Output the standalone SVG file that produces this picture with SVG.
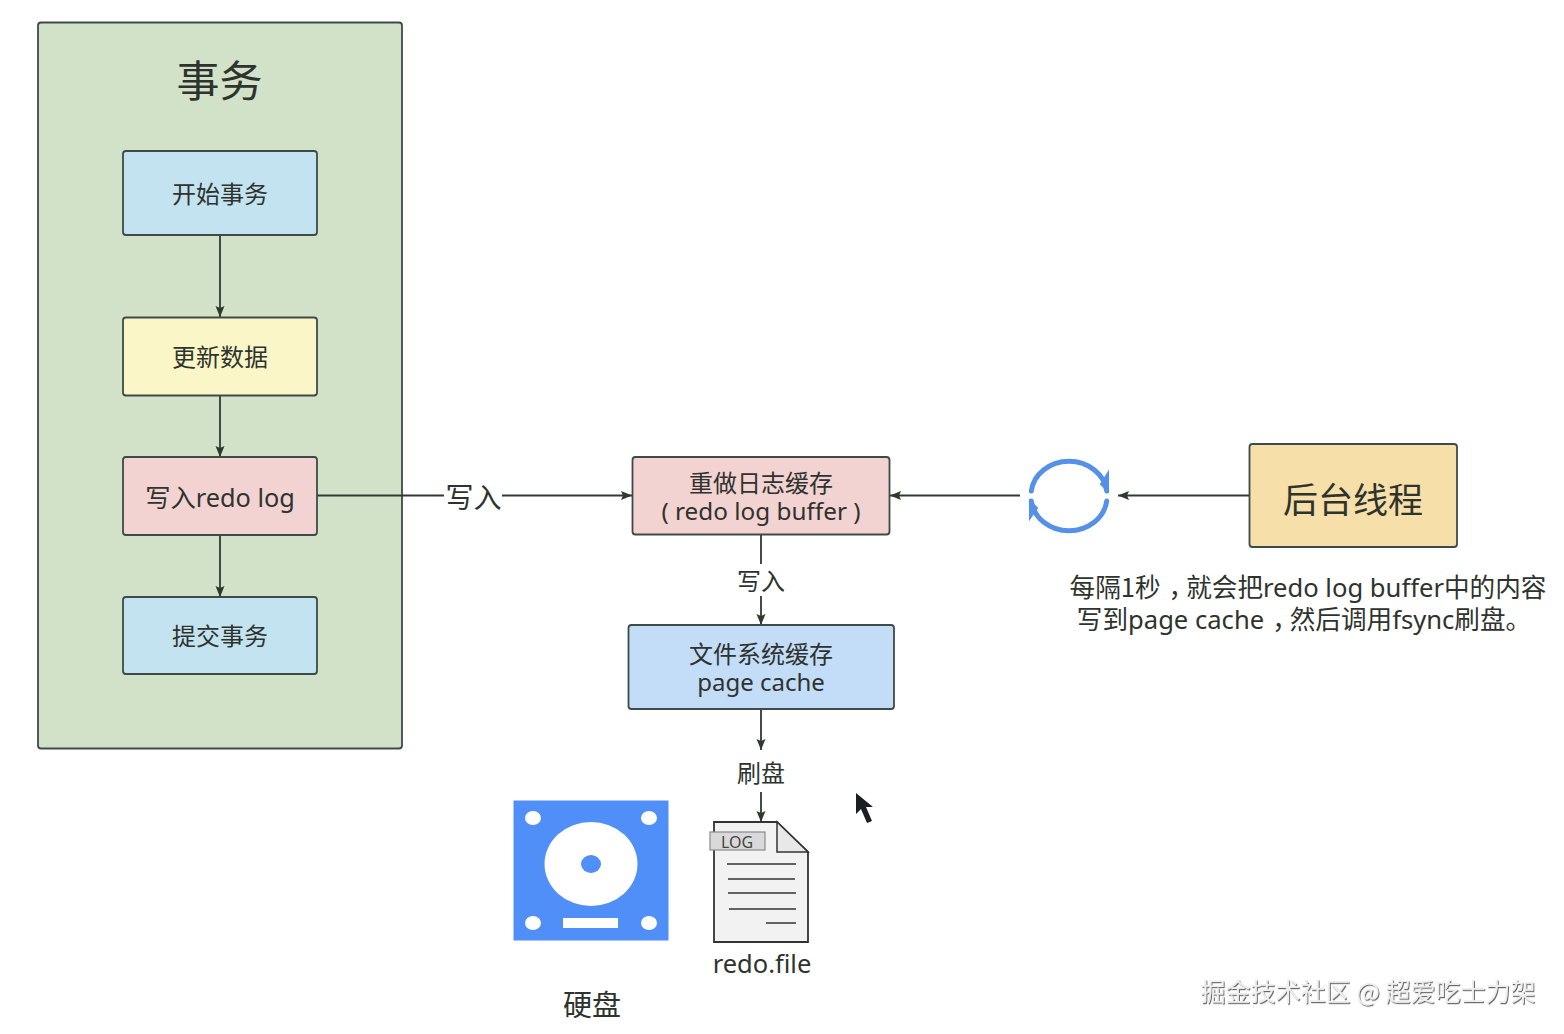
<svg xmlns="http://www.w3.org/2000/svg" width="1564" height="1034" viewBox="0 0 1564 1034">
<defs>
<marker id="a" markerUnits="userSpaceOnUse" markerWidth="13" markerHeight="12" refX="11" refY="6" orient="auto"><path d="M0 1.500L11 6L0 10.500L2 6Z" fill="#2c3a2c"/></marker>
<filter id="sh" x="-5%" y="-20%" width="110%" height="140%"><feDropShadow dx="1" dy="1.2" stdDeviation="0.6" flood-color="#555" flood-opacity="0.9"/></filter>
</defs>
<style>
text{font-family:"Noto Sans CJK SC","Noto Sans",sans-serif;fill:#2e332e;text-anchor:middle}
.lat{font-family:"Noto Sans","Noto Sans CJK SC",sans-serif}
.b{stroke:#3d4a48;stroke-width:1.8}
.c{fill:none;stroke:#2f3a32;stroke-width:1.8}
.m{marker-end:url(#a)}
.t{font-size:24px}
.fl{fill:none;stroke:#333;stroke-width:1.5}
</style>
<rect width="1564" height="1034" fill="#fff"/>
<g id="tx-container"><rect class="b" x="38" y="22.500" width="364" height="726" rx="3" fill="#d2e2c9"/><text x="219.500" y="97" font-size="43">事务</text></g>
<g id="connectors">
<path class="c m" d="M220 235V317"/>
<path class="c m" d="M220 395V457"/>
<path class="c m" d="M220 535V597"/>
<path class="c" d="M317 495.500H444"/>
<path class="c m" d="M502 495.500H632"/>
<path class="c" d="M761 535V564"/>
<path class="c m" d="M761 596V625"/>
<path class="c m" d="M761 709V750"/>
<path class="c m" d="M761 792V822"/>
<path class="c m" d="M1020 495.500H890"/>
<path class="c m" d="M1249 495.500H1118"/>
</g>
<g id="start"><rect class="b" x="123" y="151" width="194" height="84" rx="3" fill="#c4e3f1"/><text class="t" x="220" y="203">开始事务</text></g>
<g id="update"><rect class="b" x="123" y="317.500" width="194" height="78" rx="3" fill="#fbf6c8"/><text class="t" x="220" y="366">更新数据</text></g>
<g id="write"><rect class="b" x="123" y="457" width="194" height="78" rx="3" fill="#f3d2d2"/><text font-size="25.300" x="220" y="506.500">写入<tspan class="lat">redo log</tspan></text></g>
<g id="commit"><rect class="b" x="123" y="597" width="194" height="77" rx="3" fill="#c4e3f1"/><text class="t" x="220" y="645">提交事务</text></g>
<g id="buffer"><rect class="b" x="632.500" y="457" width="257" height="77.500" rx="3" fill="#f3d2d2"/><text class="t" x="761" y="492">重做日志缓存</text><text class="lat" font-size="24.300" x="761" y="520">( redo log buffer )</text></g>
<g id="cache"><rect class="b" x="628.500" y="625" width="265.500" height="84" rx="3" fill="#c3dcf8"/><text class="t" x="761" y="663">文件系统缓存</text><text class="lat" font-size="24" x="761" y="690.500">page cache</text></g>
<g id="thread"><rect class="b" x="1249.500" y="444" width="207.500" height="103" rx="3" fill="#f6dfa8"/><text x="1353" y="513" font-size="35">后台线程</text></g>
<g id="label-write1"><text x="473.500" y="508" font-size="28">写入</text></g>
<g id="label-write2"><text class="t" x="761" y="590">写入</text></g>
<g id="label-flush"><text class="t" x="761" y="781.500">刷盘</text></g>
<g id="loop" fill="none" stroke="#5591e8" stroke-width="5" stroke-linecap="round">
<path d="M1031.300 491A38 34 0 0 1 1106.700 491"/><path d="M1106.700 501A38 34 0 0 1 1031.300 501"/>
<path d="M1108 473V491L1101 484Z" fill="#5591e8" stroke-width="2"/><path d="M1030 518V501L1037 508Z" fill="#5591e8" stroke-width="2"/>
</g>
<g id="note"><text x="1308" y="597" font-size="25.600">每隔1秒<tspan dx="8">，</tspan><tspan dx="-8">就会把</tspan><tspan class="lat">redo log buffer</tspan>中的内容</text><text x="1304" y="629" font-size="25.600">写到<tspan class="lat">page cache</tspan><tspan dx="8">，</tspan><tspan dx="-8">然后调用</tspan><tspan class="lat">fsync</tspan>刷盘。</text></g>
<g id="disk">
<rect x="513.500" y="800.500" width="155" height="140" fill="#4f8ff7"/>
<ellipse cx="533" cy="818" rx="8" ry="7" fill="#fff"/><ellipse cx="649" cy="818" rx="8" ry="7" fill="#fff"/><ellipse cx="533" cy="923" rx="8" ry="7" fill="#fff"/><ellipse cx="649" cy="923" rx="8" ry="7" fill="#fff"/>
<ellipse cx="591" cy="864" rx="46.500" ry="42" fill="#fff"/><ellipse cx="591" cy="864" rx="10" ry="9" fill="#4f8ff7"/>
<rect x="563" y="918" width="55" height="10" fill="#fff"/>
<text x="592" y="1016" font-size="29">硬盘</text>
</g>
<g id="file">
<path d="M714 822H777L808 852V942H714Z" fill="#f2f2f2" stroke="#333" stroke-width="1.800"/>
<path d="M777 822V852H808Z" fill="#e8e8e8" stroke="#333" stroke-width="1.500"/>
<rect x="710" y="832" width="55" height="18" fill="#d9d9d9" stroke="#8a8a8a" stroke-width="1.200"/>
<text class="lat" x="737" y="848" font-size="16" style="fill:#444">LOG</text>
<path class="fl" d="M727 864H796M728 879H795M728 893H796M729 909H796M766 923H796"/>
<text class="lat" x="762" y="973" font-size="25.500">redo.file</text>
</g>
<g id="cursor"><path d="M856 793V814L861 809L867 823L872 821L866 807L873 807Z" fill="#1b1f25"/></g>
<g id="watermark"><text x="1368" y="1001" font-size="25" style="fill:#eee" filter="url(#sh)">掘金技术社区 @ 超爱吃士力架</text></g>
</svg>
